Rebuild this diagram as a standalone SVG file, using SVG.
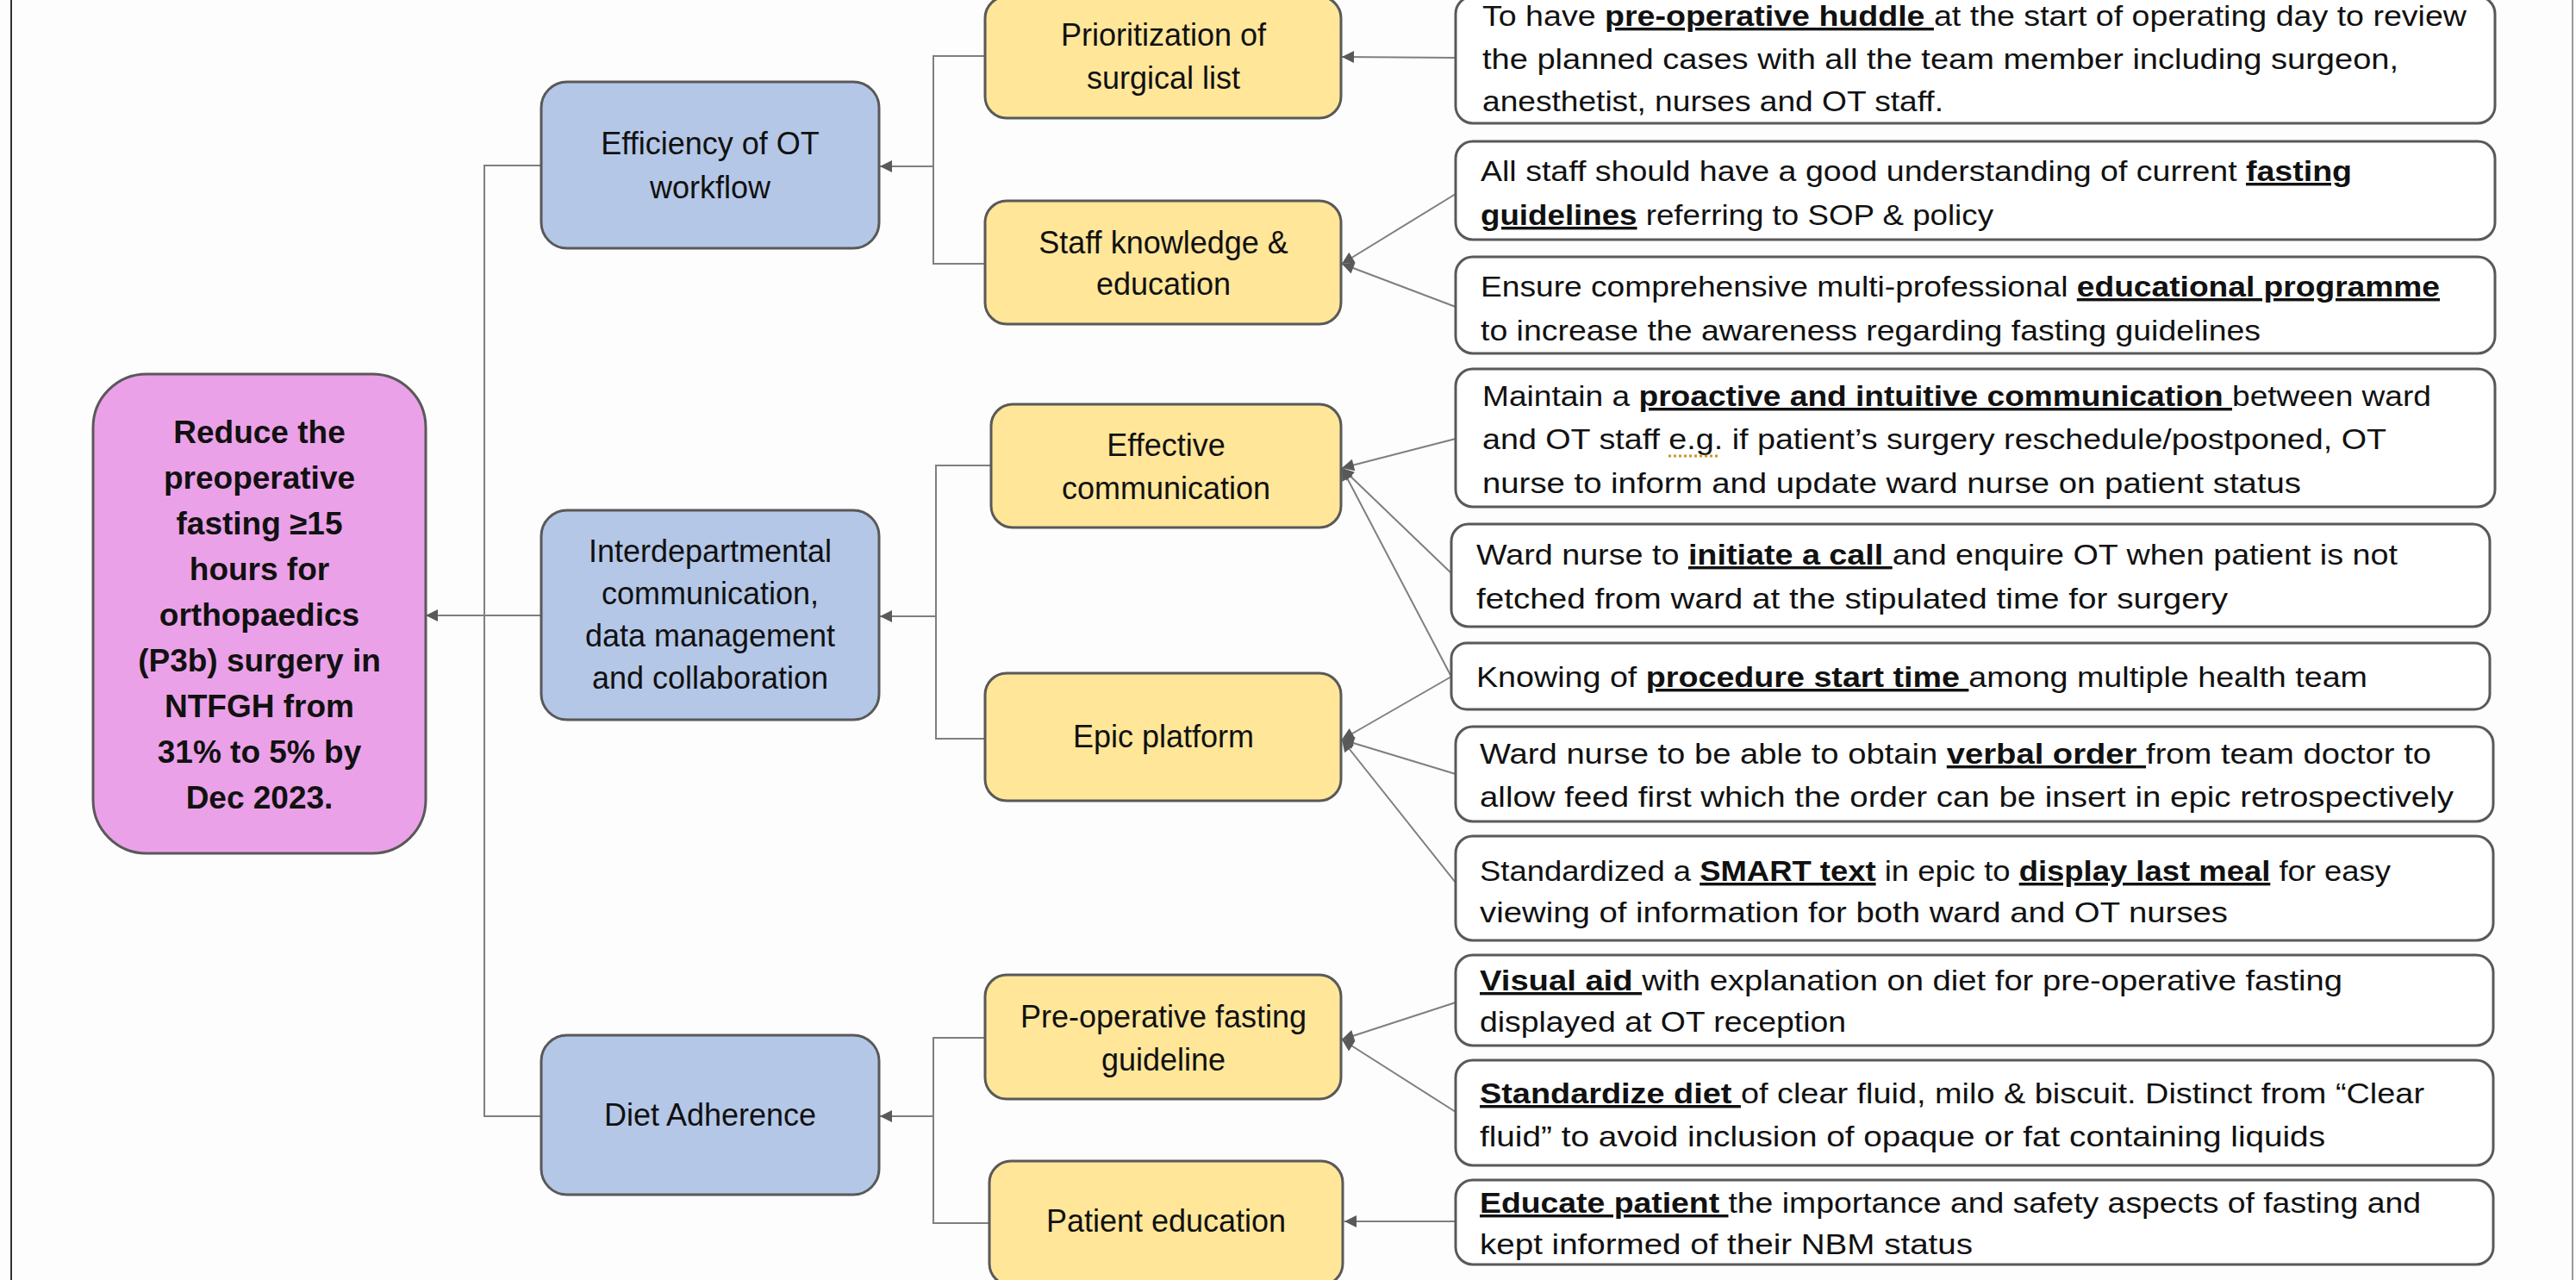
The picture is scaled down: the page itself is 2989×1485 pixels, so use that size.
<svg xmlns="http://www.w3.org/2000/svg" width="2989" height="1485" viewBox="0 0 2989 1485">
<defs>
<style>
text{font-family:"Liberation Sans",Arial,sans-serif;font-size:34px;fill:#111;}
.c{text-anchor:middle;font-size:36px;}
.root text{font-weight:bold;font-size:37px;}
.bu{font-weight:bold;text-decoration:underline;}
.rootbox{fill:#eba1e8;stroke:#595959;stroke-width:3;}
.blue{fill:#b4c7e7;stroke:#595959;stroke-width:3;}
.yel{fill:#ffe699;stroke:#595959;stroke-width:3;}
.wht{fill:#ffffff;stroke:#595959;stroke-width:3;}
.conn path{fill:none;stroke:#7f7f7f;stroke-width:2;}
.arr{marker-end:url(#ah);}
</style>
<marker id="ah" viewBox="0 0 10 10" refX="10" refY="5" markerWidth="19" markerHeight="14" markerUnits="userSpaceOnUse" orient="auto">
<path d="M0,0 L10,5 L0,10 z" fill="#595959"/>
</marker>
</defs>
<rect x="0" y="0" width="2989" height="1485" fill="#fdfdfd"/>
<line x1="13" y1="0" x2="13" y2="1485" stroke="#333" stroke-width="2"/>
<line x1="2985" y1="0" x2="2985" y2="1485" stroke="#999" stroke-width="2"/>

<g id="connectors" class="conn">
<path d="M628,192 H562 V1295 H628"/>
<path class="arr" d="M628,714 H494"/>
<path d="M1143,65 H1083 V306 H1143"/>
<path class="arr" d="M1083,193 H1021"/>
<path d="M1150,540 H1086 V857 H1143"/>
<path class="arr" d="M1086,715 H1021"/>
<path d="M1143,1204 H1083 V1419 H1148"/>
<path class="arr" d="M1083,1295 H1021"/>
<path class="arr" d="M1689,67 L1557,66"/>
<path class="arr" d="M1689,225 L1557,306"/>
<path class="arr" d="M1689,356 L1557,306"/>
<path class="arr" d="M1689,509 L1557,543"/>
<path class="arr" d="M1684,665 L1557,543"/>
<path class="arr" d="M1684,785 L1557,543"/>
<path class="arr" d="M1684,785 L1557,858"/>
<path class="arr" d="M1689,898 L1557,858"/>
<path class="arr" d="M1689,1024 L1557,858"/>
<path class="arr" d="M1689,1163 L1557,1206"/>
<path class="arr" d="M1689,1290 L1557,1206"/>
<path class="arr" d="M1689,1417 L1560,1417"/>
</g>

<g id="root" class="root">
<rect class="rootbox" x="108" y="434" width="386" height="556" rx="62"/>
<text class="c" x="301" y="514">Reduce the</text>
<text class="c" x="301" y="567">preoperative</text>
<text class="c" x="301" y="620">fasting ≥15</text>
<text class="c" x="301" y="673">hours for</text>
<text class="c" x="301" y="726">orthopaedics</text>
<text class="c" x="301" y="779">(P3b) surgery in</text>
<text class="c" x="301" y="832">NTFGH from</text>
<text class="c" x="301" y="885">31% to 5% by</text>
<text class="c" x="301" y="938">Dec 2023.</text>
</g>

<g id="efficiency">
<rect class="blue" x="628" y="95" width="392" height="193" rx="30"/>
<text class="c" x="824" y="179">Efficiency of OT</text>
<text class="c" x="824" y="230">workflow</text>
</g>
<g id="interdepartmental">
<rect class="blue" x="628" y="592" width="392" height="243" rx="30"/>
<text class="c" x="824" y="652">Interdepartmental</text>
<text class="c" x="824" y="701">communication,</text>
<text class="c" x="824" y="750">data management</text>
<text class="c" x="824" y="799">and collaboration</text>
</g>
<g id="diet">
<rect class="blue" x="628" y="1201" width="392" height="185" rx="30"/>
<text class="c" x="824" y="1306">Diet Adherence</text>
</g>

<g id="prioritization">
<rect class="yel" x="1143" y="-4" width="413" height="141" rx="25"/>
<text class="c" x="1350" y="53">Prioritization of</text>
<text class="c" x="1350" y="103">surgical list</text>
</g>
<g id="staff">
<rect class="yel" x="1143" y="233" width="413" height="143" rx="25"/>
<text class="c" x="1350" y="294">Staff knowledge &amp;</text>
<text class="c" x="1350" y="342">education</text>
</g>
<g id="effective">
<rect class="yel" x="1150" y="469" width="406" height="143" rx="25"/>
<text class="c" x="1353" y="529">Effective</text>
<text class="c" x="1353" y="579">communication</text>
</g>
<g id="epic">
<rect class="yel" x="1143" y="781" width="413" height="148" rx="25"/>
<text class="c" x="1350" y="867">Epic platform</text>
</g>
<g id="preop">
<rect class="yel" x="1143" y="1131" width="413" height="144" rx="25"/>
<text class="c" x="1350" y="1192">Pre-operative fasting</text>
<text class="c" x="1350" y="1242">guideline</text>
</g>
<g id="patient">
<rect class="yel" x="1148" y="1347" width="410" height="144" rx="25"/>
<text class="c" x="1353" y="1429">Patient education</text>
</g>

<g id="t1">
<rect class="wht" x="1689" y="-4" width="1206" height="147" rx="20"/>
<text x="1720" y="30" textLength="1142" lengthAdjust="spacingAndGlyphs">To have <tspan class="bu">pre-operative huddle </tspan>at the start of operating day to review</text>
<text x="1720" y="80" textLength="1063" lengthAdjust="spacingAndGlyphs">the planned cases with all the team member including surgeon,</text>
<text x="1720" y="129" textLength="535" lengthAdjust="spacingAndGlyphs">anesthetist, nurses and OT staff.</text>
</g>
<g id="t2">
<rect class="wht" x="1689" y="164" width="1206" height="114" rx="20"/>
<text x="1718" y="210" textLength="1011" lengthAdjust="spacingAndGlyphs">All staff should have a good understanding of current <tspan class="bu">fasting</tspan></text>
<text x="1718" y="261" textLength="595" lengthAdjust="spacingAndGlyphs"><tspan class="bu">guidelines</tspan> referring to SOP &amp; policy</text>
</g>
<g id="t3">
<rect class="wht" x="1689" y="298" width="1206" height="112" rx="20"/>
<text x="1718" y="344" textLength="1113" lengthAdjust="spacingAndGlyphs">Ensure comprehensive multi-professional <tspan class="bu">educational programme</tspan></text>
<text x="1718" y="395" textLength="905" lengthAdjust="spacingAndGlyphs">to increase the awareness regarding fasting guidelines</text>
</g>
<g id="t4">
<rect class="wht" x="1689" y="428" width="1206" height="160" rx="20"/>
<text x="1720" y="471" textLength="1101" lengthAdjust="spacingAndGlyphs">Maintain a <tspan class="bu">proactive and intuitive communication </tspan>between ward</text>
<text x="1720" y="521" textLength="1049" lengthAdjust="spacingAndGlyphs">and OT staff e.g. if patient’s surgery reschedule/postponed, OT</text>
<line x1="1936" y1="529" x2="1994" y2="529" stroke="#c8962a" stroke-width="3" stroke-dasharray="3,3"/>
<text x="1720" y="572" textLength="950" lengthAdjust="spacingAndGlyphs">nurse to inform and update ward nurse on patient status</text>
</g>
<g id="t5">
<rect class="wht" x="1684" y="608" width="1205" height="119" rx="20"/>
<text x="1713" y="655" textLength="1069" lengthAdjust="spacingAndGlyphs">Ward nurse to <tspan class="bu">initiate a call </tspan>and enquire OT when patient is not</text>
<text x="1713" y="706" textLength="872" lengthAdjust="spacingAndGlyphs">fetched from ward at the stipulated time for surgery</text>
</g>
<g id="t6">
<rect class="wht" x="1684" y="746" width="1205" height="77" rx="18"/>
<text x="1713" y="797" textLength="1034" lengthAdjust="spacingAndGlyphs">Knowing of <tspan class="bu">procedure start time </tspan>among multiple health team</text>
</g>
<g id="t7">
<rect class="wht" x="1689" y="843" width="1204" height="110" rx="20"/>
<text x="1717" y="886" textLength="1104" lengthAdjust="spacingAndGlyphs">Ward nurse to be able to obtain <tspan class="bu">verbal order </tspan>from team doctor to</text>
<text x="1717" y="936" textLength="1130" lengthAdjust="spacingAndGlyphs">allow feed first which the order can be insert in epic retrospectively</text>
</g>
<g id="t8">
<rect class="wht" x="1689" y="970" width="1204" height="121" rx="20"/>
<text x="1717" y="1022" textLength="1057" lengthAdjust="spacingAndGlyphs">Standardized a <tspan class="bu">SMART text</tspan> in epic to <tspan class="bu">display last meal</tspan> for easy</text>
<text x="1717" y="1070" textLength="868" lengthAdjust="spacingAndGlyphs">viewing of information for both ward and OT nurses</text>
</g>
<g id="t9">
<rect class="wht" x="1689" y="1108" width="1204" height="105" rx="20"/>
<text x="1717" y="1149" textLength="1001" lengthAdjust="spacingAndGlyphs"><tspan class="bu">Visual aid </tspan>with explanation on diet for pre-operative fasting</text>
<text x="1717" y="1197" textLength="425" lengthAdjust="spacingAndGlyphs">displayed at OT reception</text>
</g>
<g id="t10">
<rect class="wht" x="1689" y="1230" width="1204" height="122" rx="20"/>
<text x="1717" y="1280" textLength="1096" lengthAdjust="spacingAndGlyphs"><tspan class="bu">Standardize diet </tspan>of clear fluid, milo &amp; biscuit. Distinct from “Clear</text>
<text x="1717" y="1330" textLength="981" lengthAdjust="spacingAndGlyphs">fluid” to avoid inclusion of opaque or fat containing liquids</text>
</g>
<g id="t11">
<rect class="wht" x="1689" y="1369" width="1204" height="98" rx="20"/>
<text x="1717" y="1407" textLength="1092" lengthAdjust="spacingAndGlyphs"><tspan class="bu">Educate patient </tspan>the importance and safety aspects of fasting and</text>
<text x="1717" y="1455" textLength="572" lengthAdjust="spacingAndGlyphs">kept informed of their NBM status</text>
</g>
</svg>
